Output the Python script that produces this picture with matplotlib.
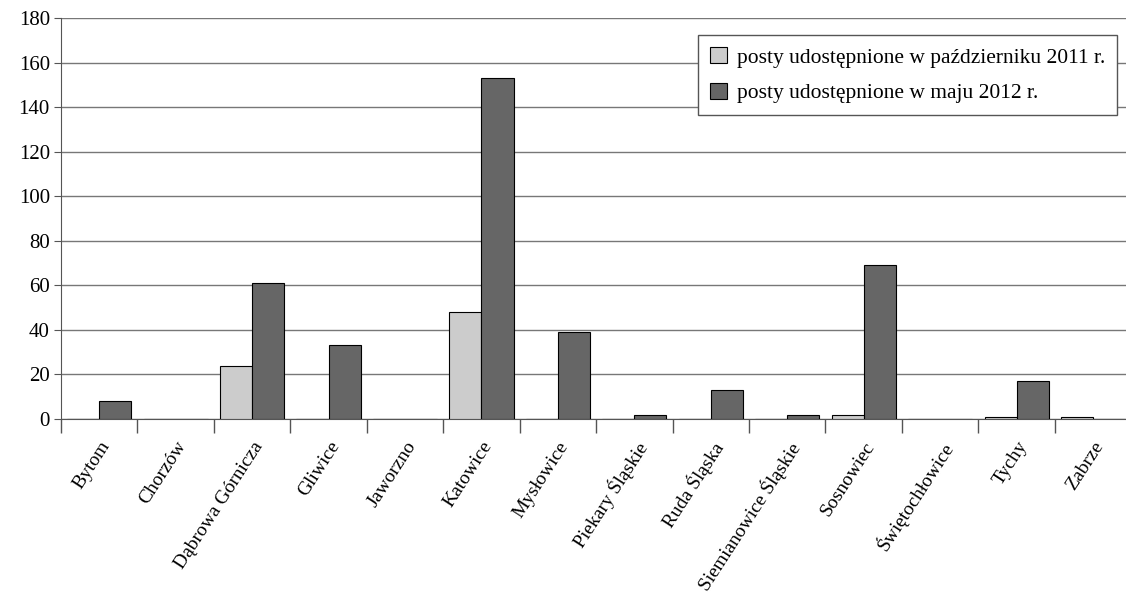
import numpy as np
import matplotlib.pyplot as plt
from matplotlib.ticker import FixedLocator

cities = ['Bytom', 'Chorzów', 'Dąbrowa Górnicza', 'Gliwice', 'Jaworzno', 'Katowice',
          'Mysłowice', 'Piekary Śląskie', 'Ruda Śląska', 'Siemianowice Śląskie',
          'Sosnowiec', 'Świętochłowice', 'Tychy', 'Zabrze']
oct_2011 = [0, 0, 24, 0, 0, 48, 0, 0, 0, 0, 2, 0, 1, 1]
may_2012 = [8, 0, 61, 33, 0, 153, 39, 2, 13, 2, 69, 0, 17, 0]
labels = ['posty udostępnione w październiku 2011 r.', 'posty udostępnione w maju 2012 r.']

serif = ['Liberation Serif', 'DejaVu Serif']
plt.rcParams['font.family'] = serif

fig = plt.figure(figsize=(11.26, 5.96), dpi=100)
ax = fig.add_axes([61 / 1126, 1 - 419 / 596, 1065 / 1126, 401 / 596])

x = np.arange(len(cities)) + 0.5
w = 0.42
ax.bar(x - w / 2, oct_2011, w, color='#cccccc', edgecolor='black', linewidth=0.8,
       label=labels[0], zorder=3)
ax.bar(x + w / 2, may_2012, w, color='#666666', edgecolor='black', linewidth=0.8,
       label=labels[1], zorder=3)

ax.set_xlim(0, 1065 / 76.45)
ax.set_ylim(0, 180)
ax.set_yticks(range(0, 181, 20))
ax.set_yticklabels([str(v) for v in range(0, 181, 20)], family=serif, fontsize=15)
ax.yaxis.grid(True, color='#777777', linewidth=1, zorder=0)
ax.tick_params(axis='y', length=5, color='#555555', pad=3)

ax.set_xticks(x)
ax.set_xticklabels(cities, rotation=57, ha='right', rotation_mode='anchor',
                   fontsize=14, family=serif)
ax.tick_params(axis='x', which='major', length=0, pad=14)
ax.xaxis.set_minor_locator(FixedLocator(np.arange(0, 15)))
ax.tick_params(axis='x', which='minor', length=10, color='#555555', width=1)

for s in ['top', 'right']:
    ax.spines[s].set_visible(False)
ax.spines['left'].set_color('#555555')
ax.spines['bottom'].set_color('#555555')

leg = ax.legend(loc='upper right', bbox_to_anchor=(1056 / 1065, 1 - 17 / 401), fontsize=15.5,
                fancybox=False, edgecolor='#555555', framealpha=1,
                handlelength=0.8, handleheight=0.8, labelspacing=0.7,
                borderpad=0.55, handletextpad=0.45, borderaxespad=0)
leg.get_frame().set_linewidth(1)

fig.savefig('out.png', dpi=100)
